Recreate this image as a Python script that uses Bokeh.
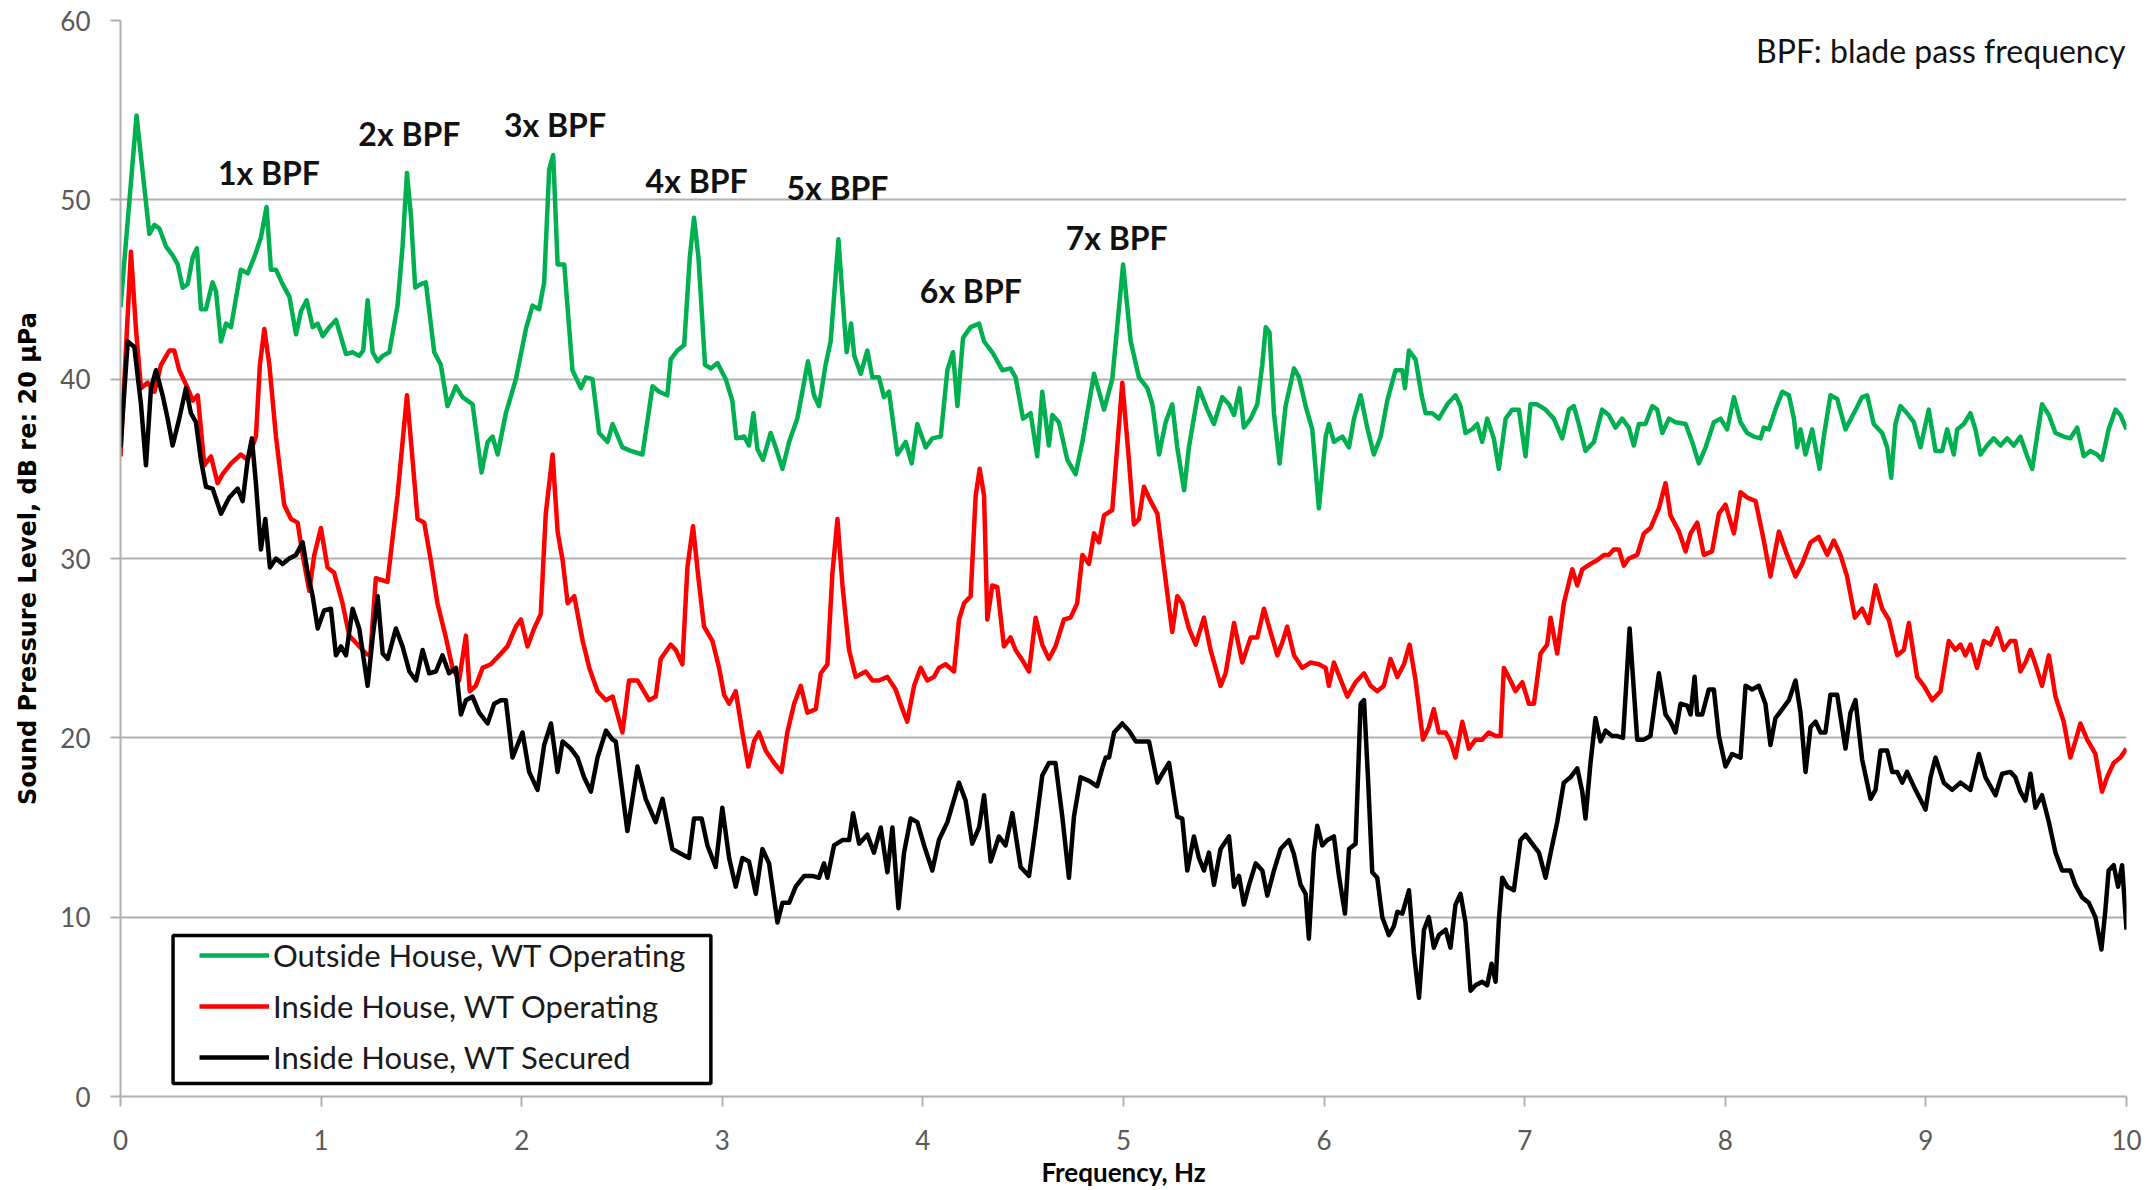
from bokeh.plotting import figure
from bokeh.models import Range1d, FixedTicker, Label, Legend, LegendItem, BoxAnnotation
from bokeh.embed import file_html
from bokeh.resources import INLINE

# ---------------- data ----------------
series_names = ["Outside House, WT Operating", "Inside House, WT Operating", "Inside House, WT Secured"]

green_f = [0.000, 0.080, 0.144, 0.169, 0.194, 0.227, 0.260, 0.285, 0.310, 0.335, 0.360, 0.381, 0.401, 0.426,
           0.459, 0.476, 0.501, 0.526, 0.551, 0.600, 0.634, 0.667, 0.700, 0.728, 0.750, 0.775, 0.808, 0.842,
           0.875, 0.900, 0.928, 0.958, 0.983, 1.008, 1.041, 1.074, 1.124, 1.157, 1.190, 1.210, 1.232, 1.257,
           1.282, 1.307, 1.340, 1.381, 1.406, 1.428, 1.448, 1.469, 1.497, 1.522, 1.564, 1.597, 1.630, 1.672,
           1.705, 1.755, 1.800, 1.830, 1.855, 1.880, 1.921, 1.971, 2.021, 2.054, 2.087, 2.112, 2.137, 2.157,
           2.179, 2.212, 2.253, 2.295, 2.320, 2.353, 2.386, 2.428, 2.453, 2.502, 2.544, 2.602, 2.652, 2.685,
           2.726, 2.743, 2.776, 2.810, 2.838, 2.859, 2.881, 2.914, 2.942, 2.976, 3.017, 3.050, 3.070, 3.109,
           3.133, 3.155, 3.175, 3.203, 3.241, 3.266, 3.300, 3.333, 3.374, 3.399, 3.427, 3.457, 3.482, 3.515,
           3.540, 3.579, 3.607, 3.620, 3.642, 3.658, 3.690, 3.723, 3.748, 3.781, 3.806, 3.831, 3.873, 3.914,
           3.944, 3.972, 4.014, 4.047, 4.089, 4.122, 4.150, 4.172, 4.200, 4.238, 4.280, 4.305, 4.346, 4.396,
           4.437, 4.462, 4.499, 4.537, 4.570, 4.595, 4.628, 4.645, 4.678, 4.720, 4.761, 4.795, 4.853, 4.903,
           4.944, 4.998, 5.036, 5.077, 5.119, 5.144, 5.177, 5.210, 5.243, 5.268, 5.302, 5.326, 5.376, 5.418,
           5.451, 5.492, 5.526, 5.551, 5.579, 5.600, 5.634, 5.667, 5.692, 5.709, 5.728, 5.750, 5.778, 5.808,
           5.850, 5.875, 5.908, 5.941, 5.974, 6.008, 6.024, 6.049, 6.091, 6.124, 6.149, 6.182, 6.215, 6.248,
           6.282, 6.315, 6.356, 6.390, 6.403, 6.423, 6.456, 6.486, 6.506, 6.539, 6.572, 6.614, 6.655, 6.680,
           6.705, 6.738, 6.763, 6.788, 6.813, 6.846, 6.871, 6.905, 6.938, 6.971, 7.004, 7.029, 7.062, 7.104,
           7.145, 7.187, 7.220, 7.245, 7.270, 7.303, 7.345, 7.386, 7.419, 7.453, 7.486, 7.519, 7.544, 7.569,
           7.602, 7.636, 7.661, 7.686, 7.719, 7.752, 7.802, 7.835, 7.868, 7.902, 7.943, 7.976, 8.009, 8.043,
           8.076, 8.109, 8.142, 8.176, 8.192, 8.217, 8.250, 8.284, 8.317, 8.342, 8.358, 8.375, 8.400, 8.433,
           8.470, 8.491, 8.524, 8.558, 8.599, 8.641, 8.682, 8.707, 8.740, 8.782, 8.807, 8.827, 8.848, 8.873,
           8.906, 8.940, 8.973, 9.014, 9.048, 9.081, 9.106, 9.139, 9.156, 9.189, 9.222, 9.247, 9.272, 9.305,
           9.338, 9.372, 9.405, 9.438, 9.471, 9.505, 9.530, 9.554, 9.579, 9.613, 9.646, 9.687, 9.720, 9.754,
           9.787, 9.820, 9.853, 9.878, 9.911, 9.945, 9.970, 10.000]
green_db = [44.0, 54.7, 48.1, 48.6, 48.4, 47.4, 46.9, 46.4, 45.1, 45.3, 46.8, 47.3, 43.9, 43.9,
            45.4, 44.9, 42.1, 43.1, 42.9, 46.1, 45.9, 46.8, 47.9, 49.6, 46.1, 46.1, 45.3, 44.6,
            42.5, 43.8, 44.4, 42.9, 43.1, 42.4, 42.9, 43.3, 41.4, 41.5, 41.3, 41.6, 44.4, 41.5,
            41.0, 41.3, 41.5, 44.1, 47.4, 51.5, 49.1, 45.1, 45.3, 45.4, 41.5, 40.8, 38.5, 39.6,
            39.0, 38.6, 34.8, 36.5, 36.8, 35.8, 38.1, 40.0, 42.8, 44.1, 43.9, 45.4, 51.7, 52.5,
            46.4, 46.4, 40.5, 39.5, 40.1, 40.0, 37.0, 36.5, 37.5, 36.2, 36.0, 35.8, 39.6, 39.3,
            39.1, 41.1, 41.6, 41.9, 46.8, 49.0, 46.8, 40.8, 40.6, 40.9, 40.0, 38.8, 36.7, 36.8,
            36.3, 38.1, 36.1, 35.5, 37.0, 36.2, 35.0, 36.5, 37.8, 39.3, 41.0, 39.1, 38.5, 40.8,
            42.1, 47.8, 43.4, 41.5, 43.1, 41.3, 40.3, 41.6, 40.1, 40.1, 39.0, 39.3, 35.8, 36.5,
            35.3, 37.5, 36.2, 36.7, 36.8, 40.5, 41.5, 38.5, 42.3, 42.9, 43.1, 42.1, 41.5, 40.5,
            40.6, 40.1, 37.8, 38.1, 35.7, 39.3, 36.3, 38.0, 37.6, 35.5, 34.7, 36.5, 40.3, 38.3,
            40.0, 46.4, 42.1, 40.1, 39.5, 38.6, 35.8, 37.6, 38.6, 36.2, 33.8, 36.2, 39.5, 38.3,
            37.5, 39.0, 38.6, 38.0, 39.5, 37.3, 37.8, 38.6, 40.8, 42.9, 42.6, 38.1, 35.3, 38.5,
            40.6, 40.1, 38.5, 37.2, 32.8, 36.8, 37.5, 36.5, 36.8, 36.2, 37.8, 39.1, 37.3, 35.8,
            36.8, 38.8, 40.5, 40.5, 39.5, 41.6, 41.1, 39.1, 38.1, 38.1, 37.8, 38.6, 39.1, 38.5,
            37.0, 37.2, 37.5, 36.5, 37.8, 36.7, 35.0, 37.8, 38.3, 38.3, 35.7, 38.6, 38.6, 38.3,
            37.8, 36.7, 38.3, 38.5, 37.5, 36.0, 36.5, 38.3, 38.0, 37.3, 37.8, 37.3, 36.3, 37.5,
            37.5, 38.5, 38.3, 37.0, 37.8, 37.6, 37.5, 36.5, 35.3, 36.2, 37.6, 37.8, 37.2, 39.0,
            37.6, 37.0, 36.8, 36.7, 37.3, 37.2, 38.3, 39.3, 39.1, 37.8, 36.2, 37.2, 35.8, 37.2,
            35.0, 36.8, 39.1, 38.9, 37.2, 38.1, 39.0, 39.1, 37.5, 37.0, 36.2, 34.5, 37.5, 38.5,
            38.1, 37.6, 36.2, 38.3, 36.0, 36.0, 37.2, 35.8, 37.2, 37.5, 38.1, 37.2, 35.8, 36.3,
            36.7, 36.3, 36.7, 36.3, 36.8, 35.7, 35.0, 36.8, 38.6, 38.0, 37.0, 36.8, 36.7, 37.3,
            35.7, 36.0, 35.8, 35.5, 37.2, 38.3, 38.0, 37.2]

red_f = [0.000, 0.052, 0.077, 0.102, 0.135, 0.169, 0.202, 0.244, 0.268, 0.293, 0.335, 0.360, 0.385, 0.418,
         0.451, 0.484, 0.509, 0.551, 0.600, 0.634, 0.675, 0.695, 0.717, 0.742, 0.775, 0.816, 0.850, 0.883,
         0.908, 0.941, 0.966, 0.999, 1.032, 1.065, 1.107, 1.140, 1.182, 1.223, 1.245, 1.273, 1.331, 1.381,
         1.428, 1.456, 1.481, 1.514, 1.547, 1.580, 1.622, 1.655, 1.688, 1.722, 1.741, 1.771, 1.805, 1.846,
         1.888, 1.929, 1.971, 1.996, 2.029, 2.062, 2.095, 2.120, 2.154, 2.179, 2.204, 2.229, 2.262, 2.304,
         2.337, 2.378, 2.420, 2.453, 2.502, 2.535, 2.577, 2.635, 2.668, 2.693, 2.743, 2.768, 2.801, 2.826,
         2.854, 2.881, 2.909, 2.951, 2.984, 3.009, 3.034, 3.067, 3.100, 3.130, 3.158, 3.183, 3.216, 3.258,
         3.295, 3.324, 3.358, 3.391, 3.424, 3.466, 3.491, 3.524, 3.549, 3.574, 3.599, 3.632, 3.665, 3.715,
         3.748, 3.781, 3.823, 3.864, 3.898, 3.922, 3.956, 3.989, 4.022, 4.055, 4.080, 4.113, 4.155, 4.180,
         4.205, 4.238, 4.263, 4.283, 4.305, 4.321, 4.346, 4.371, 4.404, 4.437, 4.462, 4.492, 4.529, 4.562,
         4.595, 4.628, 4.661, 4.703, 4.736, 4.769, 4.795, 4.828, 4.853, 4.878, 4.903, 4.944, 4.994, 5.027,
         5.052, 5.077, 5.102, 5.135, 5.169, 5.202, 5.243, 5.268, 5.293, 5.326, 5.360, 5.401, 5.434, 5.459,
         5.484, 5.509, 5.551, 5.592, 5.634, 5.667, 5.700, 5.733, 5.767, 5.791, 5.816, 5.850, 5.891, 5.933,
         5.974, 6.008, 6.024, 6.049, 6.077, 6.116, 6.157, 6.199, 6.232, 6.265, 6.298, 6.331, 6.365, 6.398,
         6.426, 6.456, 6.493, 6.522, 6.547, 6.572, 6.606, 6.630, 6.655, 6.689, 6.722, 6.755, 6.788, 6.821,
         6.855, 6.880, 6.896, 6.929, 6.954, 6.988, 7.021, 7.046, 7.079, 7.112, 7.129, 7.162, 7.195, 7.237,
         7.262, 7.287, 7.328, 7.361, 7.395, 7.419, 7.444, 7.470, 7.494, 7.519, 7.561, 7.594, 7.627, 7.669,
         7.702, 7.727, 7.769, 7.802, 7.827, 7.860, 7.893, 7.934, 7.968, 8.001, 8.043, 8.076, 8.109, 8.151,
         8.192, 8.225, 8.267, 8.308, 8.350, 8.383, 8.425, 8.466, 8.508, 8.541, 8.574, 8.607, 8.646, 8.682,
         8.715, 8.749, 8.782, 8.815, 8.857, 8.890, 8.915, 8.956, 8.990, 9.031, 9.073, 9.114, 9.147, 9.172,
         9.197, 9.222, 9.255, 9.289, 9.322, 9.355, 9.388, 9.421, 9.446, 9.471, 9.496, 9.521, 9.546, 9.579,
         9.613, 9.646, 9.687, 9.720, 9.745, 9.770, 9.804, 9.845, 9.878, 9.903, 9.936, 9.970, 10.000]
red_db = [35.7, 47.1, 42.8, 39.5, 39.8, 39.3, 40.8, 41.6, 41.6, 40.5, 39.5, 38.8, 39.1, 35.2,
          35.7, 34.2, 34.7, 35.3, 35.8, 35.5, 36.8, 40.8, 42.8, 40.8, 36.8, 33.0, 32.2, 32.0,
          30.2, 28.2, 30.2, 31.7, 29.5, 29.2, 27.5, 25.7, 25.2, 24.7, 24.6, 28.9, 28.7, 33.5,
          39.1, 35.5, 32.2, 32.0, 29.9, 27.5, 25.6, 23.9, 23.2, 25.7, 22.6, 22.9, 23.9, 24.1,
          24.6, 25.1, 26.2, 26.6, 25.1, 26.1, 26.9, 32.5, 35.8, 31.5, 29.9, 27.5, 27.9, 25.4,
          23.9, 22.6, 22.1, 22.3, 20.3, 23.2, 23.2, 22.1, 22.3, 24.4, 25.2, 24.9, 24.1, 29.5,
          31.8, 28.9, 26.2, 25.4, 23.9, 22.4, 21.9, 22.6, 20.3, 18.4, 19.8, 20.3, 19.3, 18.6,
          18.1, 20.3, 21.9, 22.9, 21.4, 21.6, 23.6, 24.1, 29.2, 32.2, 28.5, 24.9, 23.4, 23.7,
          23.2, 23.2, 23.4, 22.7, 21.6, 20.9, 22.9, 23.9, 23.2, 23.4, 23.9, 24.1, 23.7, 26.6,
          27.5, 27.9, 33.5, 35.0, 33.5, 26.6, 28.5, 28.4, 25.1, 25.6, 24.9, 24.4, 23.7, 26.7,
          25.2, 24.4, 25.1, 26.6, 26.7, 27.5, 30.2, 29.7, 31.4, 30.9, 32.4, 32.7, 39.8, 35.5,
          31.9, 32.2, 34.0, 33.2, 32.5, 29.5, 25.9, 27.9, 27.5, 26.1, 25.2, 26.7, 24.9, 23.9,
          22.9, 23.6, 26.4, 24.2, 25.6, 25.6, 27.2, 25.9, 24.6, 25.3, 26.2, 24.6, 23.9, 24.2,
          24.1, 23.9, 22.9, 24.2, 23.4, 22.3, 23.1, 23.6, 22.9, 22.6, 22.9, 24.4, 23.4, 24.1,
          25.2, 23.2, 19.9, 20.6, 21.6, 20.3, 20.3, 19.8, 18.9, 20.9, 19.4, 19.9, 19.9, 20.3,
          20.1, 20.1, 23.9, 23.2, 22.6, 23.1, 21.9, 21.9, 24.7, 25.2, 26.7, 24.7, 27.5, 29.4,
          28.5, 29.4, 29.7, 29.9, 30.2, 30.2, 30.5, 30.5, 29.6, 30.0, 30.2, 31.4, 31.7, 32.8,
          34.2, 32.4, 31.5, 30.4, 31.4, 32.0, 30.2, 30.4, 32.5, 33.0, 31.4, 33.7, 33.4, 33.2,
          31.0, 29.0, 31.5, 30.2, 29.0, 29.7, 30.9, 31.2, 30.2, 31.0, 30.2, 29.0, 26.7, 27.2,
          26.4, 28.5, 27.2, 26.6, 24.6, 24.9, 26.4, 23.4, 22.9, 22.1, 22.6, 25.4, 24.9, 25.2,
          24.6, 25.2, 23.9, 25.4, 25.2, 26.1, 24.9, 25.4, 25.4, 23.7, 24.2, 24.9, 24.1, 22.9,
          24.6, 22.3, 20.9, 18.9, 19.8, 20.8, 19.9, 19.1, 17.0, 17.8, 18.6, 18.9, 19.4]

black_f = [0.000, 0.036, 0.069, 0.102, 0.127, 0.152, 0.177, 0.210, 0.235, 0.260, 0.293, 0.326, 0.351, 0.376,
           0.401, 0.426, 0.459, 0.501, 0.542, 0.584, 0.609, 0.634, 0.655, 0.675, 0.700, 0.722, 0.745, 0.775,
           0.808, 0.841, 0.875, 0.908, 0.933, 0.958, 0.983, 1.015, 1.049, 1.074, 1.099, 1.124, 1.157, 1.190,
           1.232, 1.257, 1.282, 1.307, 1.332, 1.373, 1.406, 1.440, 1.473, 1.506, 1.539, 1.572, 1.605, 1.638,
           1.672, 1.697, 1.722, 1.755, 1.788, 1.830, 1.863, 1.896, 1.921, 1.954, 1.979, 2.004, 2.037, 2.079,
           2.112, 2.146, 2.179, 2.204, 2.245, 2.278, 2.311, 2.345, 2.378, 2.420, 2.453, 2.469, 2.527, 2.577,
           2.618, 2.668, 2.702, 2.751, 2.801, 2.834, 2.859, 2.897, 2.926, 2.967, 3.000, 3.034, 3.067, 3.100,
           3.133, 3.167, 3.200, 3.233, 3.275, 3.300, 3.333, 3.366, 3.408, 3.449, 3.482, 3.507, 3.524, 3.557,
           3.599, 3.632, 3.652, 3.682, 3.723, 3.756, 3.790, 3.823, 3.848, 3.878, 3.906, 3.939, 3.972, 4.006,
           4.047, 4.080, 4.122, 4.180, 4.213, 4.246, 4.280, 4.305, 4.338, 4.379, 4.412, 4.446, 4.487, 4.529,
           4.562, 4.595, 4.628, 4.661, 4.695, 4.728, 4.753, 4.786, 4.828, 4.869, 4.894, 4.911, 4.928, 4.953,
           4.994, 5.027, 5.061, 5.094, 5.127, 5.169, 5.194, 5.227, 5.268, 5.293, 5.318, 5.351, 5.376, 5.401,
           5.426, 5.451, 5.484, 5.526, 5.551, 5.576, 5.600, 5.626, 5.659, 5.692, 5.717, 5.750, 5.783, 5.825,
           5.850, 5.883, 5.908, 5.924, 5.949, 5.966, 5.991, 6.016, 6.049, 6.074, 6.104, 6.124, 6.157, 6.182,
           6.199, 6.220, 6.240, 6.265, 6.290, 6.323, 6.348, 6.365, 6.390, 6.423, 6.448, 6.473, 6.498, 6.522,
           6.547, 6.572, 6.606, 6.630, 6.655, 6.680, 6.705, 6.730, 6.755, 6.788, 6.813, 6.835, 6.855, 6.871,
           6.888, 6.913, 6.946, 6.979, 7.004, 7.037, 7.071, 7.104, 7.137, 7.162, 7.195, 7.228, 7.262, 7.287,
           7.303, 7.328, 7.353, 7.378, 7.403, 7.436, 7.461, 7.490, 7.523, 7.561, 7.594, 7.627, 7.669, 7.702,
           7.727, 7.752, 7.777, 7.810, 7.827, 7.847, 7.860, 7.885, 7.918, 7.943, 7.968, 8.001, 8.034, 8.076,
           8.101, 8.134, 8.167, 8.200, 8.225, 8.250, 8.284, 8.317, 8.350, 8.375, 8.400, 8.425, 8.450, 8.475,
           8.499, 8.524, 8.558, 8.599, 8.624, 8.649, 8.682, 8.724, 8.749, 8.774, 8.807, 8.832, 8.857, 8.882,
           8.906, 8.948, 8.998, 9.023, 9.048, 9.089, 9.131, 9.172, 9.222, 9.264, 9.297, 9.347, 9.380, 9.421,
           9.446, 9.471, 9.496, 9.521, 9.546, 9.579, 9.613, 9.646, 9.679, 9.720, 9.745, 9.779, 9.812, 9.845,
           9.875, 9.894, 9.911, 9.936, 9.958, 9.978, 10.000]
black_db = [36.2, 42.1, 41.8, 38.6, 35.2, 39.5, 40.5, 39.1, 37.8, 36.3, 37.8, 39.5, 38.1, 37.6,
            35.5, 34.0, 33.9, 32.5, 33.4, 33.9, 33.2, 35.5, 36.7, 34.2, 30.5, 32.2, 29.5, 30.0,
            29.7, 30.0, 30.2, 30.9, 29.2, 27.9, 26.1, 27.1, 27.2, 24.6, 25.1, 24.6, 27.2, 26.1,
            22.9, 25.6, 27.9, 24.7, 24.4, 26.1, 25.1, 23.7, 23.2, 24.9, 23.6, 23.7, 24.6, 23.6,
            23.9, 21.3, 22.1, 22.3, 21.4, 20.8, 21.9, 22.1, 22.1, 18.9, 19.6, 20.3, 18.1, 17.1,
            19.6, 20.8, 18.1, 19.8, 19.4, 18.9, 17.8, 17.0, 18.9, 20.4, 19.9, 19.8, 14.8, 18.4,
            16.6, 15.3, 16.6, 13.8, 13.5, 13.3, 15.5, 15.5, 14.0, 12.8, 16.1, 13.3, 11.7, 13.3,
            13.1, 11.3, 13.8, 13.0, 9.7, 10.8, 10.8, 11.7, 12.3, 12.3, 12.2, 13.0, 12.2, 14.0,
            14.3, 14.3, 15.8, 14.1, 14.6, 13.6, 15.0, 12.5, 15.0, 10.5, 13.6, 15.5, 15.3, 14.0,
            12.6, 14.3, 15.3, 17.5, 16.5, 14.1, 15.0, 16.8, 13.1, 14.5, 14.0, 15.8, 12.8, 12.3,
            15.0, 17.9, 18.6, 18.6, 15.6, 12.2, 15.6, 17.8, 17.6, 17.3, 18.3, 18.9, 18.9, 20.3,
            20.8, 20.4, 19.8, 19.8, 19.8, 17.5, 18.0, 18.6, 15.6, 15.5, 12.6, 14.5, 13.3, 12.6,
            13.6, 11.8, 13.8, 14.5, 11.7, 12.3, 10.7, 11.8, 13.0, 12.6, 11.2, 12.6, 13.8, 14.3,
            13.5, 11.8, 11.3, 8.8, 13.6, 15.1, 14.0, 14.3, 14.5, 12.3, 10.2, 13.8, 14.1, 21.9,
            22.1, 17.5, 12.5, 12.2, 10.0, 9.0, 9.5, 10.3, 10.2, 11.5, 8.0, 5.5, 9.3, 10.0,
            8.3, 9.0, 9.3, 8.3, 10.7, 11.3, 9.7, 5.9, 6.2, 6.4, 6.2, 7.4, 6.4, 9.8,
            12.2, 11.7, 11.5, 14.3, 14.6, 14.1, 13.6, 12.2, 14.0, 15.3, 17.5, 17.8, 18.3, 17.0,
            15.5, 18.6, 21.1, 19.8, 20.4, 20.1, 20.1, 20.0, 26.1, 19.9, 19.9, 20.1, 23.6, 21.3,
            20.9, 20.3, 21.9, 21.8, 21.3, 23.4, 21.3, 21.3, 22.7, 22.7, 20.1, 18.4, 19.1, 18.9,
            22.9, 22.7, 22.9, 21.9, 19.6, 21.1, 21.6, 22.1, 23.2, 21.4, 18.1, 20.6, 20.9, 20.3,
            20.3, 22.4, 22.4, 19.4, 21.4, 22.1, 18.8, 16.6, 17.1, 19.3, 19.3, 18.1, 18.1, 17.5,
            18.1, 17.1, 16.0, 17.8, 18.9, 17.5, 17.1, 17.5, 17.1, 19.1, 17.8, 16.8, 18.0, 18.1,
            17.8, 17.0, 16.5, 18.0, 16.1, 16.8, 15.3, 13.6, 12.6, 12.6, 11.8, 11.1, 10.8, 10.0,
            8.2, 10.3, 12.6, 12.9, 11.7, 12.9, 9.3]

x_ticks = [0, 1, 2, 3, 4, 5, 6, 7, 8, 9, 10]
y_ticks = [0, 10, 20, 30, 40, 50, 60]

bpf_labels = ["1x BPF", "2x BPF", "3x BPF", "4x BPF", "5x BPF", "6x BPF", "7x BPF"]
note_text = "BPF: blade pass frequency"

# annotation anchor positions (layout, in data units)
bpf_pos_x = [0.74, 1.44, 2.166, 2.872, 3.574, 4.239, 4.966]
bpf_pos_y = [51.5, 53.7, 54.2, 51.1, 50.7, 44.95, 47.9]

# ---------------- figure ----------------
GREEN, RED, BLACK = "#00B050", "#FF0000", "#000000"
GRID = "#B0B0B0"
TICK_TXT = "#595959"

p = figure(width=2154, height=1190, x_range=Range1d(0, 10), y_range=Range1d(0, 60),
           output_backend="svg", toolbar_location=None,
           min_border_left=120, min_border_right=28, min_border_top=20, min_border_bottom=94)
p.outline_line_color = None
p.background_fill_color = "white"
p.border_fill_color = "white"

p.xgrid.visible = False
p.ygrid.grid_line_color = GRID
p.ygrid.grid_line_width = 2

p.xaxis.ticker = FixedTicker(ticks=x_ticks)
p.yaxis.ticker = FixedTicker(ticks=y_ticks)
for ax in (p.xaxis[0], p.yaxis[0]):
    ax.axis_line_color = GRID
    ax.axis_line_width = 2
    ax.major_tick_line_color = GRID
    ax.major_tick_line_width = 2
    ax.major_tick_out = 10
    ax.major_tick_in = 0
    ax.minor_tick_line_color = None
    ax.major_label_text_font = "Lato"
    ax.major_label_text_font_size = "26px"
    ax.major_label_text_color = TICK_TXT

p.xaxis.major_label_standoff = 23
p.yaxis.major_label_standoff = 20

p.xaxis.axis_label = "Frequency, Hz"
p.xaxis.axis_label_text_font = "Lato"
p.xaxis.axis_label_text_font_style = "bold"
p.xaxis.axis_label_text_font_size = "26px"
p.xaxis.axis_label_text_color = "black"
p.xaxis.axis_label_standoff = 3

p.yaxis.axis_label = "Sound Pressure Level, dB re: 20 \u00b5Pa"
p.yaxis.axis_label_text_font = "DejaVu Sans"
p.yaxis.axis_label_text_font_style = "bold"
p.yaxis.axis_label_text_font_size = "24px"
p.yaxis.axis_label_text_color = "black"
p.yaxis.axis_label_standoff = 15

g = p.line(green_f, green_db, line_color=GREEN, line_width=4.5, line_join="round")
r = p.line(red_f, red_db, line_color=RED, line_width=4.5, line_join="round")
k = p.line(black_f, black_db, line_color=BLACK, line_width=4.5, line_join="round")

# legend frame (drawn separately so its padding can differ per side)
legend_box = BoxAnnotation(left=0.262, right=2.943, bottom=0.725, top=8.98,
                           fill_color="white", fill_alpha=1.0,
                           line_color="black", line_alpha=1.0, line_width=3.5)
p.add_layout(legend_box)

legend = Legend(items=[LegendItem(label=series_names[0], renderers=[g]),
                       LegendItem(label=series_names[1], renderers=[r]),
                       LegendItem(label=series_names[2], renderers=[k])],
                location=(79, 20))
legend.border_line_color = None
legend.background_fill_alpha = 0
legend.label_text_font = "Lato"
legend.label_text_font_size = "31px"
legend.label_text_color = "#1a1a1a"
legend.glyph_width = 70
legend.glyph_height = 36
legend.label_height = 36
legend.label_standoff = 4
legend.spacing = 13
legend.padding = 0
legend.margin = 0
p.add_layout(legend)

for txt, lx, ly in zip(bpf_labels, bpf_pos_x, bpf_pos_y):
    p.add_layout(Label(x=lx, y=ly, text=txt, text_align="center", text_baseline="middle",
                       text_font="Lato", text_font_style="bold", text_font_size="32px",
                       text_color="#111111"))

p.add_layout(Label(x=9.995, y=58.3, text=note_text, text_align="right", text_baseline="middle",
                   text_font="Lato", text_font_size="32px", text_color="#111111"))

open("out.html", "w").write(file_html(p, INLINE))
